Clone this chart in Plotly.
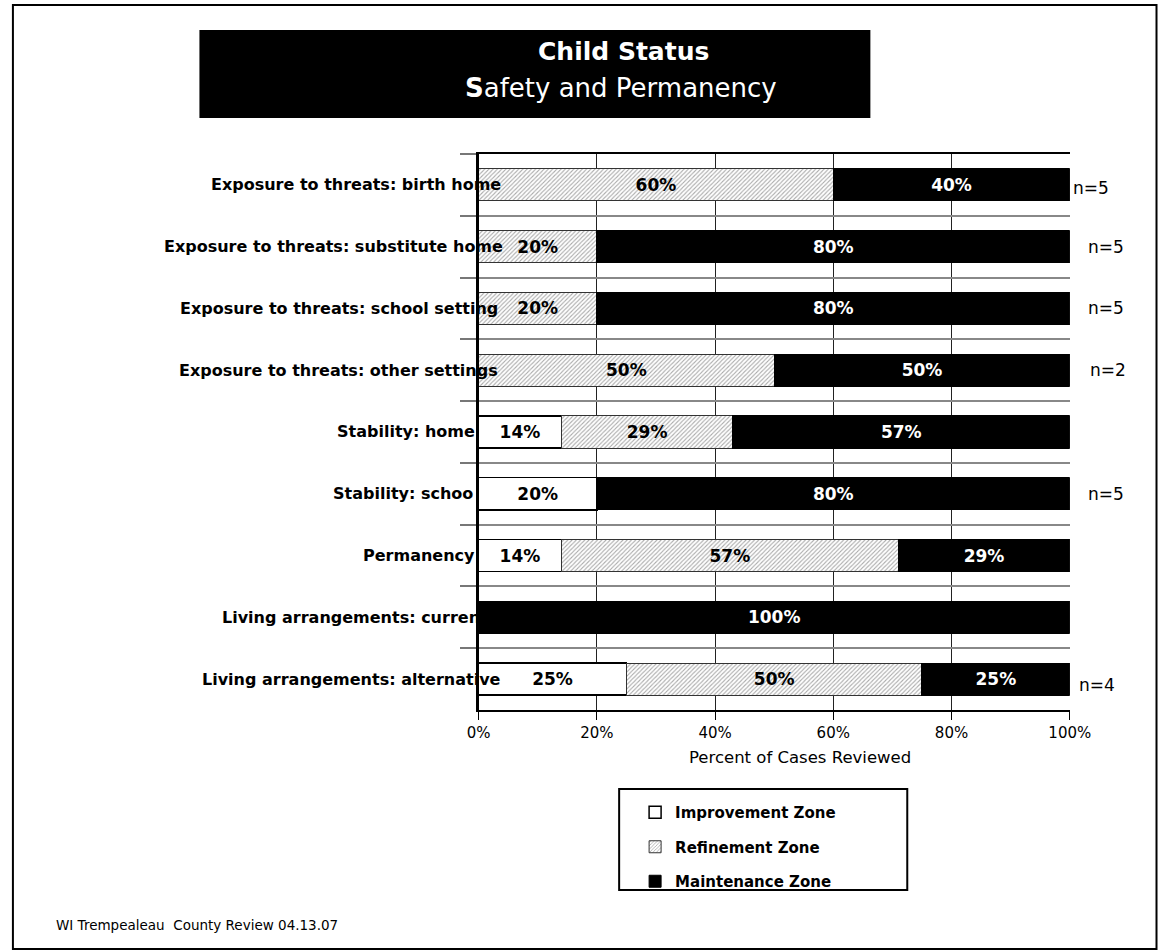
import plotly.graph_objects as go

# The page shows the figure shifted right by X_OFF and squeezed horizontally by X_SCALE,
# so page-pixel targets are mapped back to figure pixels below.
X_OFF = 8
X_SCALE = 0.975
W, H = 1180, 952

# ---------------- data ----------------
categories = [
    "Exposure to threats: birth home",
    "Exposure to threats: substitute home",
    "Exposure to threats: school setting",
    "Exposure to threats: other settings",
    "Stability: home",
    "Stability: schoo",
    "Permanency",
    "Living arrangements: current",
    "Living arrangements: alternative",
]
improvement = [0, 0, 0, 0, 14, 20, 14, 0, 25]
refinement = [60, 20, 20, 50, 29, 0, 57, 0, 50]
maintenance = [40, 80, 80, 50, 57, 80, 29, 100, 25]
n_labels = ["n=5", "n=5", "n=5", "n=2", "", "n=5", "", "", "n=4"]
x_ticks = [0, 20, 40, 60, 80, 100]
series_names = ["Improvement Zone", "Refinement Zone", "Maintenance Zone"]

# ---------------- layout helpers (page pixel positions) ----------------
def px(x):
    f = (x - X_OFF) / X_SCALE / W
    return min(max(f, 0.0008), 0.9992)

def py(y):
    return 1 - y / H

PLOT_L, PLOT_R, PLOT_T, PLOT_B = 476, 1069, 154, 710
label_right_px = [500, 503, 497, 497, 474, 472, 474, 487, 500]
n_left_px = [1070, 1085, 1085, 1087, 1085, 1085, 1085, 1085, 1076]
n_dy_px = [3, 0, 0, 0, 0, 0, 0, 0, 6]

FONT = "DejaVu Sans"


def pct_text(vals):
    return [f"{v}%" if v else "" for v in vals]


fig = go.Figure()

fig.add_trace(go.Bar(
    y=categories, x=improvement, orientation="h", name=series_names[0],
    legendgroup="a",
    marker=dict(color="white", line=dict(color="black", width=1.5)),
    text=pct_text(improvement), textposition="inside", insidetextanchor="middle",
    textangle=0, constraintext="none",
    insidetextfont=dict(family=FONT, size=17, color="black", weight="bold"),
    hoverinfo="skip",
))
fig.add_trace(go.Bar(
    y=categories, x=refinement, orientation="h", name=series_names[1],
    legendgroup="b",
    marker=dict(color="white",
                line=dict(color="#333333", width=1),
                pattern=dict(shape="/", size=3, solidity=0.35,
                             fgcolor="#555555", bgcolor="white",
                             fillmode="overlay")),
    text=pct_text(refinement), textposition="inside", insidetextanchor="middle",
    textangle=0, constraintext="none",
    insidetextfont=dict(family=FONT, size=17, color="black", weight="bold"),
    hoverinfo="skip",
))
fig.add_trace(go.Bar(
    y=categories, x=maintenance, orientation="h", name=series_names[2],
    legendgroup="c",
    marker=dict(color="black", line=dict(color="black", width=1)),
    text=pct_text(maintenance), textposition="inside", insidetextanchor="middle",
    textangle=0, constraintext="none",
    insidetextfont=dict(family=FONT, size=17, color="white", weight="bold"),
    hoverinfo="skip",
))

shapes = [
    # outer frame
    dict(type="rect", xref="paper", yref="paper",
         x0=px(6), x1=px(1156), y0=py(949), y1=py(5),
         line=dict(color="black", width=2), fillcolor="rgba(0,0,0,0)", layer="below"),
    # title block
    dict(type="rect", xref="paper", yref="paper",
         x0=px(196), x1=px(869), y0=py(118), y1=py(30),
         line=dict(width=0), fillcolor="black", layer="above"),
    # legend box
    dict(type="rect", xref="paper", yref="paper",
         x0=px(617), x1=px(906), y0=py(890), y1=py(789),
         line=dict(color="black", width=2), fillcolor="rgba(0,0,0,0)", layer="above"),
]

annotations = [
    dict(text="<b>Child Status</b>", x=px(621), y=py(51), xref="paper", yref="paper",
         showarrow=False, xanchor="center", yanchor="middle",
         font=dict(family=FONT, size=25, color="white")),
    dict(text="<b>S</b>afety and Permanency", x=px(619), y=py(88), xref="paper", yref="paper",
         showarrow=False, xanchor="center", yanchor="middle",
         font=dict(family=FONT, size=26, color="white")),
    dict(text="Percent of Cases Reviewed", x=px(798), y=py(757), xref="paper", yref="paper",
         showarrow=False, xanchor="center", yanchor="middle",
         font=dict(family=FONT, size=16.5, color="black")),
    dict(text="WI Trempealeau  County Review 04.13.07", x=px(50), y=py(925),
         xref="paper", yref="paper", showarrow=False, xanchor="left", yanchor="middle",
         font=dict(family=FONT, size=13.5, color="black")),
]

row_h = (PLOT_B - PLOT_T) / len(categories)
for i, cat in enumerate(categories):
    yc = PLOT_T + row_h * (i + 0.5)
    annotations.append(dict(
        text=f"<b>{cat}</b>", x=px(label_right_px[i]), y=py(yc),
        xref="paper", yref="paper", showarrow=False,
        xanchor="right", yanchor="middle",
        font=dict(family=FONT, size=16, color="black")))
    if n_labels[i]:
        annotations.append(dict(
            text=n_labels[i], x=px(n_left_px[i]), y=py(yc + n_dy_px[i]),
            xref="paper", yref="paper", showarrow=False,
            xanchor="left", yanchor="middle",
            font=dict(family=FONT, size=17, color="black")))

fig.update_layout(
    width=W, height=H, autosize=False,
    margin=dict(l=0, r=0, t=0, b=0),
    paper_bgcolor="white", plot_bgcolor="white",
    barmode="stack", bargap=0.48,
    showlegend=True,
    legend=dict(x=px(633), y=py(796), xanchor="left", yanchor="top",
                traceorder="grouped", tracegroupgap=12,
                bgcolor="rgba(0,0,0,0)", borderwidth=0,
                font=dict(family=FONT, size=15, color="black", weight="bold"),
                itemclick=False, itemdoubleclick=False),
    xaxis=dict(domain=[px(PLOT_L), px(PLOT_R)], range=[0, 100],
               tickvals=x_ticks, ticktext=[f"{t}%" for t in x_ticks],
               showgrid=True, gridcolor="#222222", gridwidth=1,
               zeroline=False,
               showline=True, linecolor="black", linewidth=2, mirror=True,
               ticks="outside", ticklen=8, tickcolor="black", tickwidth=1,
               tickfont=dict(family=FONT, size=15, color="black"),
               fixedrange=True),
    yaxis=dict(domain=[py(PLOT_B), py(PLOT_T)],
               type="category", categoryorder="array", categoryarray=categories,
               range=[len(categories) - 0.5, -0.5],
               tickson="boundaries", showticklabels=False,
               ticks="outside", ticklen=16, tickcolor="#777777", tickwidth=1.5,
               showgrid=True, gridcolor="#888888", gridwidth=1.5,
               showline=True, linecolor="black", linewidth=2.5, mirror=False,
               zeroline=False, fixedrange=True),
    shapes=shapes,
    annotations=annotations,
)

fig.write_html("out.html", config={"responsive": False, "displayModeBar": False})
